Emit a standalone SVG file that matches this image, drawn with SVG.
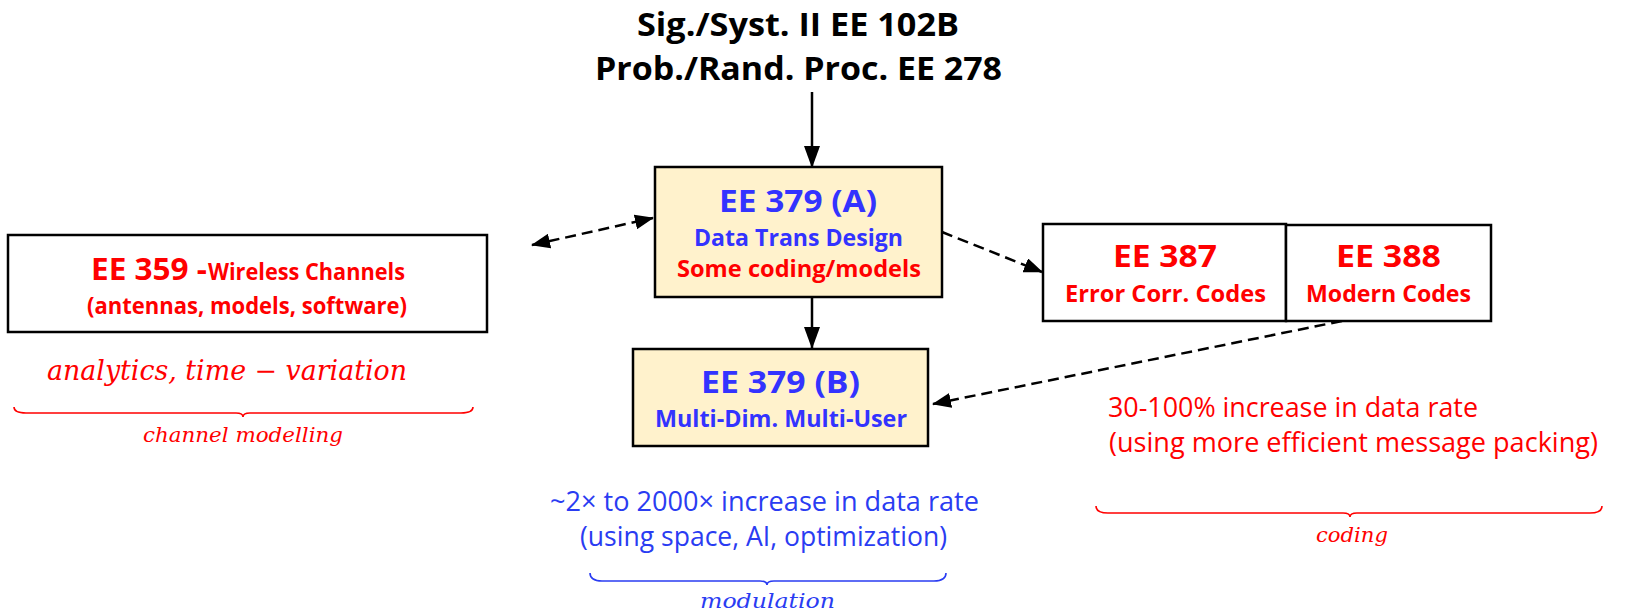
<svg xmlns="http://www.w3.org/2000/svg" width="1633" height="612" viewBox="0 0 1633 612">
  <style>
    .box { stroke: #000; stroke-width: 2.5; }
    .plain { fill: #fff; }
    .course { fill: #fff2cc; }
    .b { font-family: "Open Sans", "Noto Sans", "Liberation Sans", sans-serif; font-weight: bold; text-anchor: middle; }
    .r { font-family: "Open Sans", "Noto Sans", "Liberation Sans", sans-serif; font-weight: normal; }
    .m { font-family: "DejaVu Serif", "Liberation Serif", serif; font-style: italic; text-anchor: middle; }
    .red { fill: #ff0000; }
    .blue { fill: #3333ff; }
    .blue2 { fill: #2a3cf2; }
    .conn { stroke: #000; stroke-width: 2.5; fill: none; }
    .dash { stroke-dasharray: 11 6; }
    .brace { fill: none; stroke-width: 1.6; }
  </style>
  <defs>
    <marker id="head" markerUnits="userSpaceOnUse" markerWidth="22" markerHeight="16" refX="21" refY="8" orient="auto-start-reverse">
      <path d="M0,0 L22,8 L0,16 Z" fill="#000"/>
    </marker>
    <marker id="headS" markerUnits="userSpaceOnUse" markerWidth="19" markerHeight="15" refX="18" refY="7.5" orient="auto-start-reverse">
      <path d="M0,0 L19,7.5 L0,15 Z" fill="#000"/>
    </marker>
  </defs>

  <!-- prerequisites heading -->
  <g id="prereq">
    <text class="b" x="798" y="36" font-size="33" textLength="322" lengthAdjust="spacingAndGlyphs">Sig./Syst. II EE 102B</text>
    <text class="b" x="798.5" y="80" font-size="33" textLength="407" lengthAdjust="spacingAndGlyphs">Prob./Rand. Proc. EE 278</text>
  </g>

  <!-- connectors -->
  <g id="connectors">
    <line class="conn" x1="812" y1="92" x2="812" y2="167" marker-end="url(#head)"/>
    <line class="conn" x1="812" y1="297" x2="812" y2="348" marker-end="url(#head)"/>
    <line class="conn dash" x1="532" y1="245" x2="653" y2="218" marker-start="url(#headS)" marker-end="url(#headS)"/>
    <line class="conn dash" x1="942" y1="232" x2="1042" y2="272" marker-end="url(#headS)"/>
    <line class="conn dash" x1="1342" y1="321" x2="933" y2="404" marker-end="url(#headS)"/>
  </g>

  <!-- EE 379 (A) -->
  <g id="ee379a">
    <rect class="box course" x="655" y="167" width="287" height="130"/>
    <text class="b blue" x="798" y="212" font-size="31" textLength="158" lengthAdjust="spacingAndGlyphs">EE 379 (A)</text>
    <text class="b blue" x="798.5" y="246" font-size="23" textLength="209" lengthAdjust="spacingAndGlyphs">Data Trans Design</text>
    <text class="b red" x="799" y="277" font-size="23" textLength="244" lengthAdjust="spacingAndGlyphs">Some coding/models</text>
  </g>

  <!-- EE 379 (B) -->
  <g id="ee379b">
    <rect class="box course" x="633" y="349" width="295" height="97"/>
    <text class="b blue" x="780.5" y="393" font-size="31" textLength="159" lengthAdjust="spacingAndGlyphs">EE 379 (B)</text>
    <text class="b blue" x="781" y="427" font-size="23" textLength="252" lengthAdjust="spacingAndGlyphs">Multi-Dim. Multi-User</text>
  </g>

  <!-- EE 359 -->
  <g id="ee359">
    <rect class="box plain" x="8" y="235" width="479" height="97"/>
    <text class="b red" x="149" y="280" font-size="31" textLength="116" lengthAdjust="spacingAndGlyphs">EE 359 -</text>
    <text class="b red" x="306.5" y="280" font-size="23" textLength="197" lengthAdjust="spacingAndGlyphs">Wireless Channels</text>
    <text class="b red" x="247" y="314" font-size="23" textLength="320" lengthAdjust="spacingAndGlyphs">(antennas, models, software)</text>
  </g>

  <!-- EE 387 -->
  <g id="ee387">
    <rect class="box plain" x="1043" y="224" width="243" height="97"/>
    <text class="b red" x="1165" y="267" font-size="31" textLength="104" lengthAdjust="spacingAndGlyphs">EE 387</text>
    <text class="b red" x="1165.5" y="302" font-size="23" textLength="201" lengthAdjust="spacingAndGlyphs">Error Corr. Codes</text>
  </g>

  <!-- EE 388 -->
  <g id="ee388">
    <rect class="box plain" x="1286" y="225" width="205" height="96"/>
    <text class="b red" x="1388.5" y="267" font-size="31" textLength="105" lengthAdjust="spacingAndGlyphs">EE 388</text>
    <text class="b red" x="1388.5" y="302" font-size="23" textLength="165" lengthAdjust="spacingAndGlyphs">Modern Codes</text>
  </g>

  <!-- channel modelling note -->
  <g id="note-channel">
    <text class="m red" x="227" y="380" font-size="27" textLength="360" lengthAdjust="spacingAndGlyphs">analytics, time − variation</text>
    <path class="brace" stroke="#ff0000" d="M14,407 Q14,413 26,413 L236,413 Q243,413 243,417 Q243,413 250,413 L461,413 Q473,413 473,407"/>
    <text class="m red" x="243" y="442" font-size="20" textLength="200" lengthAdjust="spacingAndGlyphs">channel modelling</text>
  </g>

  <!-- modulation note -->
  <g id="note-modulation">
    <text class="r blue2" x="764.5" y="511" font-size="27" text-anchor="middle" textLength="429" lengthAdjust="spacingAndGlyphs">~2× to 2000× increase in data rate</text>
    <text class="r blue2" x="763.5" y="546" font-size="27" text-anchor="middle" textLength="367" lengthAdjust="spacingAndGlyphs">(using space, AI, optimization)</text>
    <path class="brace" stroke="#2a3cf2" d="M590,573 Q590,581 602,581 L760,581 Q767,581 767,585 Q767,581 774,581 L934,581 Q946,581 946,573"/>
    <text class="m blue2" x="767.5" y="608" font-size="20" textLength="135" lengthAdjust="spacingAndGlyphs">modulation</text>
  </g>

  <!-- coding note -->
  <g id="note-coding">
    <text class="r red" x="1108" y="417" font-size="28" textLength="370" lengthAdjust="spacingAndGlyphs">30-100% increase in data rate</text>
    <text class="r red" x="1109" y="452" font-size="28" textLength="489" lengthAdjust="spacingAndGlyphs">(using more efficient message packing)</text>
    <path class="brace" stroke="#ff0000" d="M1096,506 Q1096,513 1108,513 L1343,513 Q1350,513 1350,517 Q1350,513 1357,513 L1590,513 Q1602,513 1602,506"/>
    <text class="m red" x="1352" y="542" font-size="20" textLength="72" lengthAdjust="spacingAndGlyphs">coding</text>
  </g>
</svg>
